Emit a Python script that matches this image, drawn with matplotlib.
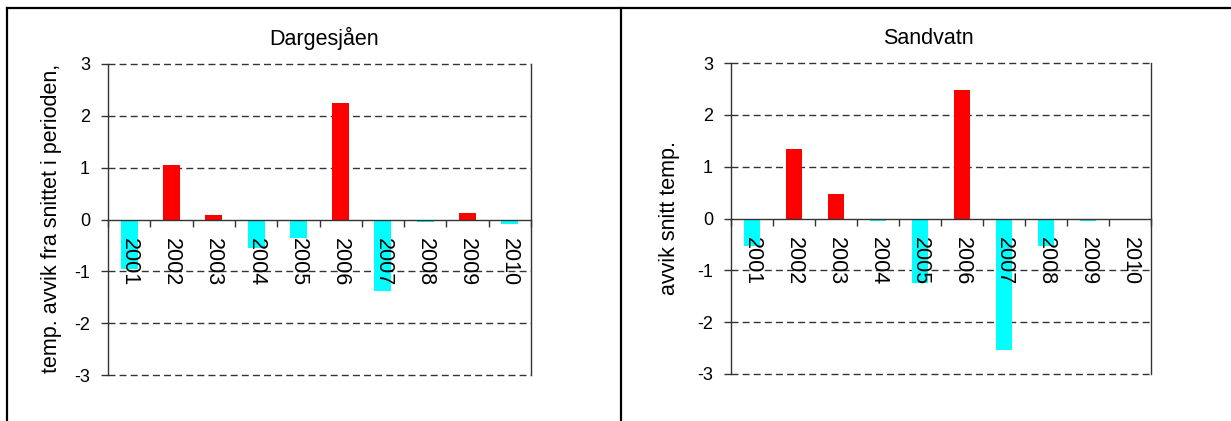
import matplotlib
matplotlib.use("Agg")
import matplotlib.pyplot as plt
from matplotlib.lines import Line2D
import numpy as np

years = ["2001", "2002", "2003", "2004", "2005", "2006", "2007", "2008", "2009", "2010"]
dargesjaen = [-0.95, 1.05, 0.08, -0.55, -0.36, 2.24, -1.37, -0.05, 0.12, -0.09]
sandvatn = [-0.54, 1.35, 0.47, -0.04, -1.24, 2.47, -2.54, -0.54, -0.04, 0.0]
titles = ["Dargesjåen", "Sandvatn"]
ylabels = ["temp. avvik fra snittet i perioden,", "avvik snitt temp."]
yticks = [-3, -2, -1, 0, 1, 2, 3]

plt.rcParams['font.family'] = ['Liberation Sans', 'DejaVu Sans']

W, H = 1231, 421
fig = plt.figure(figsize=(W / 100, H / 100), dpi=100)

def fx(px):
    return px / W

def fy(py):
    return 1 - py / H

# outer frame
for xs, ys in [((7, W), (8, 8)), ((7, 7), (8, H)), ((621, 621), (8, H))]:
    fig.add_artist(Line2D([fx(x) for x in xs], [fy(y) for y in ys], color='black', lw=1.6,
                          transform=fig.transFigure))

axes_px = [(108, 64, 531, 375), (731, 63, 1151, 374)]
title_x = [324, 928]
ylabel_x = [52, 670]
datas = [dargesjaen, sandvatn]

for i in range(2):
    l, t, r, b = axes_px[i]
    ax = fig.add_axes([fx(l), fy(b), (r - l) / W, (b - t) / H])
    vals = np.array(datas[i])
    x = np.arange(len(years))
    colors = ['#FF0000' if v >= 0 else '#00FFFF' for v in vals]
    ax.bar(x, vals, width=0.4, color=colors, zorder=1)
    ax.set_xlim(-0.5, len(years) - 0.5)
    ax.set_ylim(-3, 3)
    for yv in yticks:
        if yv != 0:
            ax.axhline(yv, color='#333333', lw=1.0, ls=(0, (5, 3)), zorder=0.5, clip_on=False)
    ax.spines['top'].set_visible(False)
    ax.spines['bottom'].set_position(('data', 0))
    ax.spines['bottom'].set_color('#333333')
    ax.spines['left'].set_color('#333333')
    ax.spines['right'].set_color('#333333')
    for s in ['bottom', 'left', 'right']:
        ax.spines[s].set_linewidth(1.0)
    ax.set_yticks(yticks)
    ax.set_yticklabels([str(v) for v in yticks], fontsize=13)
    ax.tick_params(axis='y', direction='out', length=5, width=1, color='#333333', pad=8)
    ax.set_xticks(x)
    ax.set_xticklabels(years, rotation=-90, fontsize=15.5, ha='center', va='top')
    ax.tick_params(axis='x', which='major', length=0, pad=13)
    ax.set_xticks(np.arange(len(years) + 1) - 0.5, minor=True)
    ax.tick_params(axis='x', which='minor', direction='out', length=5, width=1, color='#333333')
    fig.text(fx(title_x[i]), fy(38), titles[i], fontsize=15.5, ha='center', va='center')
    fig.text(fx(ylabel_x[i]), fy(218), ylabels[i], fontsize=15.5, rotation=90,
             ha='center', va='center')

fig.savefig("out.png", dpi=100)
